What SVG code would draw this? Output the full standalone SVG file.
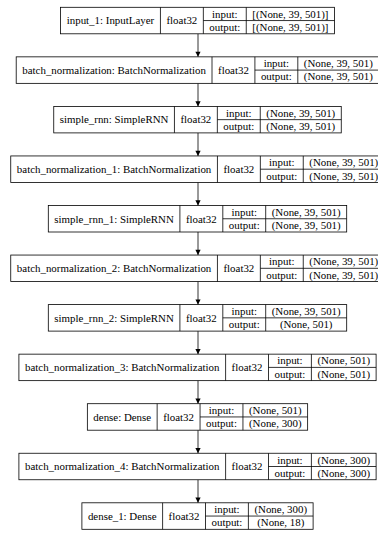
<svg xmlns="http://www.w3.org/2000/svg" width="378" height="534" viewBox="0 0 378 534">
<defs>
<style>
.box{fill:#fff;stroke:#000;stroke-width:0.8}
.ln{stroke:#000;stroke-width:0.8;fill:none}
text{font-family:"Liberation Serif","Times New Roman",serif;font-size:10.9px;fill:#000;text-anchor:middle}
.edge{stroke:#000;stroke-width:0.8;fill:none;marker-end:url(#ah)}
</style>
<marker id="ah" viewBox="0 0 10 10" refX="10" refY="5" markerWidth="7.5" markerHeight="5.2" markerUnits="userSpaceOnUse" orient="auto">
<path d="M0,0 L10,5 L0,10 z" fill="#000"/>
</marker>
</defs>
<rect width="378" height="534" fill="#fff"/>
<g id="connectors">
<line class="edge" x1="198" y1="33.8" x2="198" y2="56.85"/>
<line class="edge" x1="198" y1="83.35" x2="198" y2="106.4"/>
<line class="edge" x1="198" y1="132.9" x2="198" y2="155.95"/>
<line class="edge" x1="198" y1="182.45" x2="198" y2="205.5"/>
<line class="edge" x1="198" y1="232" x2="198" y2="255.05"/>
<line class="edge" x1="198" y1="281.55" x2="198" y2="304.6"/>
<line class="edge" x1="198" y1="331.1" x2="198" y2="354.15"/>
<line class="edge" x1="198" y1="380.65" x2="198" y2="403.7"/>
<line class="edge" x1="198" y1="430.2" x2="198" y2="453.25"/>
<line class="edge" x1="198" y1="479.75" x2="198" y2="502.8"/>
</g>
<g id="input_1" transform="translate(0,7.3)">
<rect class="box" x="60.45" y="0" width="274.1" height="26.5"/>
<path class="ln" d="M160.45,0V26.5M203.35,0V26.5M246.25,0V26.5M203.35,13.25H334.55"/>
<text x="110.45" y="17">input_1: InputLayer</text>
<text x="181.9" y="17">float32</text>
<text x="224.8" y="10.3">input:</text>
<text x="224.8" y="23.6">output:</text>
<text x="290.4" y="10.3">[(None, 39, 501)]</text>
<text x="290.4" y="23.6">[(None, 39, 501)]</text>
</g>
<g id="batch_normalization" transform="translate(0,56.85)">
<rect class="box" x="16.2" y="0" width="362.6" height="26.5"/>
<path class="ln" d="M212,0V26.5M254.9,0V26.5M297.8,0V26.5M254.9,13.25H378.8"/>
<text x="114.1" y="17">batch_normalization: BatchNormalization</text>
<text x="233.45" y="17">float32</text>
<text x="276.35" y="10.3">input:</text>
<text x="276.35" y="23.6">output:</text>
<text x="338.3" y="10.3">(None, 39, 501)</text>
<text x="338.3" y="23.6">(None, 39, 501)</text>
</g>
<g id="simple_rnn" transform="translate(0,106.4)">
<rect class="box" x="53.75" y="0" width="287.5" height="26.5"/>
<path class="ln" d="M174.45,0V26.5M217.35,0V26.5M260.25,0V26.5M217.35,13.25H341.25"/>
<text x="114.1" y="17">simple_rnn: SimpleRNN</text>
<text x="195.9" y="17">float32</text>
<text x="238.8" y="10.3">input:</text>
<text x="238.8" y="23.6">output:</text>
<text x="300.75" y="10.3">(None, 39, 501)</text>
<text x="300.75" y="23.6">(None, 39, 501)</text>
</g>
<g id="batch_normalization_1" transform="translate(0,155.95)">
<rect class="box" x="10.75" y="0" width="373.5" height="26.5"/>
<path class="ln" d="M217.45,0V26.5M260.35,0V26.5M303.25,0V26.5M260.35,13.25H384.25"/>
<text x="114.1" y="17">batch_normalization_1: BatchNormalization</text>
<text x="238.9" y="17">float32</text>
<text x="281.8" y="10.3">input:</text>
<text x="281.8" y="23.6">output:</text>
<text x="343.75" y="10.3">(None, 39, 501)</text>
<text x="343.75" y="23.6">(None, 39, 501)</text>
</g>
<g id="simple_rnn_1" transform="translate(0,205.5)">
<rect class="box" x="48.3" y="0" width="298.4" height="26.5"/>
<path class="ln" d="M179.9,0V26.5M222.8,0V26.5M265.7,0V26.5M222.8,13.25H346.7"/>
<text x="114.1" y="17">simple_rnn_1: SimpleRNN</text>
<text x="201.35" y="17">float32</text>
<text x="244.25" y="10.3">input:</text>
<text x="244.25" y="23.6">output:</text>
<text x="306.2" y="10.3">(None, 39, 501)</text>
<text x="306.2" y="23.6">(None, 39, 501)</text>
</g>
<g id="batch_normalization_2" transform="translate(0,255.05)">
<rect class="box" x="10.75" y="0" width="373.5" height="26.5"/>
<path class="ln" d="M217.45,0V26.5M260.35,0V26.5M303.25,0V26.5M260.35,13.25H384.25"/>
<text x="114.1" y="17">batch_normalization_2: BatchNormalization</text>
<text x="238.9" y="17">float32</text>
<text x="281.8" y="10.3">input:</text>
<text x="281.8" y="23.6">output:</text>
<text x="343.75" y="10.3">(None, 39, 501)</text>
<text x="343.75" y="23.6">(None, 39, 501)</text>
</g>
<g id="simple_rnn_2" transform="translate(0,304.6)">
<rect class="box" x="48.3" y="0" width="298.4" height="26.5"/>
<path class="ln" d="M179.9,0V26.5M222.8,0V26.5M265.7,0V26.5M222.8,13.25H346.7"/>
<text x="114.1" y="17">simple_rnn_2: SimpleRNN</text>
<text x="201.35" y="17">float32</text>
<text x="244.25" y="10.3">input:</text>
<text x="244.25" y="23.6">output:</text>
<text x="306.2" y="10.3">(None, 39, 501)</text>
<text x="306.2" y="23.6">(None, 501)</text>
</g>
<g id="batch_normalization_3" transform="translate(0,354.15)">
<rect class="box" x="18.9" y="0" width="357.2" height="26.5"/>
<path class="ln" d="M225.6,0V26.5M268.5,0V26.5M311.4,0V26.5M268.5,13.25H376.1"/>
<text x="122.25" y="17">batch_normalization_3: BatchNormalization</text>
<text x="247.05" y="17">float32</text>
<text x="289.95" y="10.3">input:</text>
<text x="289.95" y="23.6">output:</text>
<text x="343.75" y="10.3">(None, 501)</text>
<text x="343.75" y="23.6">(None, 501)</text>
</g>
<g id="dense" transform="translate(0,403.7)">
<rect class="box" x="87.35" y="0" width="220.3" height="26.5"/>
<path class="ln" d="M157.15,0V26.5M200.05,0V26.5M242.95,0V26.5M200.05,13.25H307.65"/>
<text x="122.25" y="17">dense: Dense</text>
<text x="178.6" y="17">float32</text>
<text x="221.5" y="10.3">input:</text>
<text x="221.5" y="23.6">output:</text>
<text x="275.3" y="10.3">(None, 501)</text>
<text x="275.3" y="23.6">(None, 300)</text>
</g>
<g id="batch_normalization_4" transform="translate(0,453.25)">
<rect class="box" x="18.9" y="0" width="357.2" height="26.5"/>
<path class="ln" d="M225.6,0V26.5M268.5,0V26.5M311.4,0V26.5M268.5,13.25H376.1"/>
<text x="122.25" y="17">batch_normalization_4: BatchNormalization</text>
<text x="247.05" y="17">float32</text>
<text x="289.95" y="10.3">input:</text>
<text x="289.95" y="23.6">output:</text>
<text x="343.75" y="10.3">(None, 300)</text>
<text x="343.75" y="23.6">(None, 300)</text>
</g>
<g id="dense_1" transform="translate(0,502.8)">
<rect class="box" x="81.9" y="0" width="231.2" height="26.5"/>
<path class="ln" d="M162.6,0V26.5M205.5,0V26.5M248.4,0V26.5M205.5,13.25H313.1"/>
<text x="122.25" y="17">dense_1: Dense</text>
<text x="184.05" y="17">float32</text>
<text x="226.95" y="10.3">input:</text>
<text x="226.95" y="23.6">output:</text>
<text x="280.75" y="10.3">(None, 300)</text>
<text x="280.75" y="23.6">(None, 18)</text>
</g>
</svg>
